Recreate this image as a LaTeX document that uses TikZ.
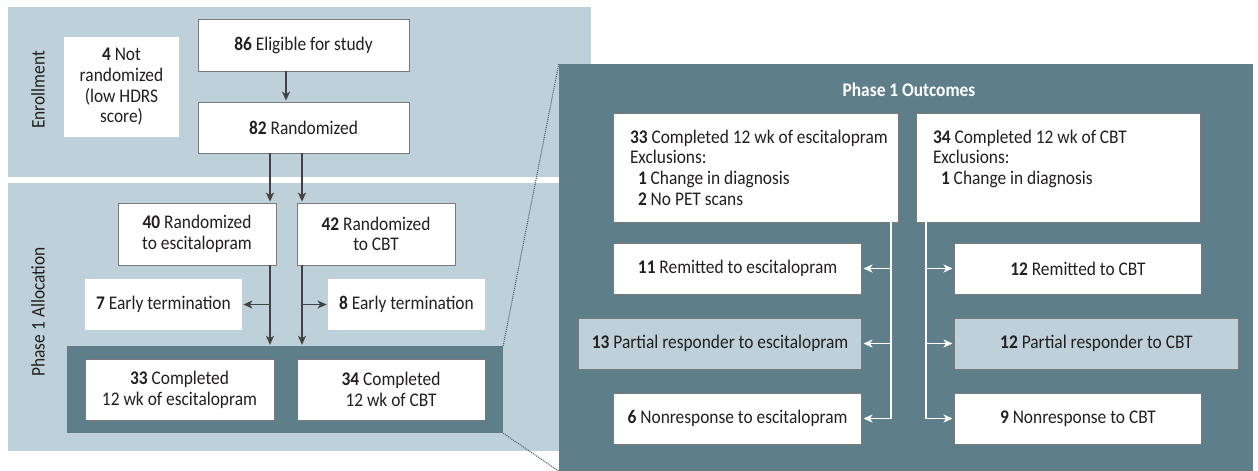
\documentclass[tikz,border=0pt]{standalone}
\usepackage{fontspec}
\setmainfont{Carlito}[FakeStretch=0.9]
\usetikzlibrary{arrows.meta,positioning}
\definecolor{bandlight}{HTML}{BED0D9}
\definecolor{banddark}{HTML}{5E7F8A}
\definecolor{boxline}{HTML}{7A7A7A}
\definecolor{inkgray}{HTML}{231F20}
\tikzset{
  box/.style={draw=boxline,fill=white,line width=0.8pt,minimum height=51pt,inner sep=0pt,align=center,text=inkgray},
  plainbox/.style={box,draw=none},
  outbox/.style={box,minimum width=248pt},
  infobox/.style={box,minimum width=285pt,minimum height=109pt,text width=251pt,align=flush left},
  darkband/.style={fill=banddark,inner sep=0pt},
  sidelabel/.style={rotate=90,text=inkgray},
  arrowline/.style={draw=inkgray!85,line width=1.5pt,shorten >=1pt},
  whiteline/.style={draw=white,line width=1.4pt,shorten >=1.5pt},
  zoomline/.style={draw=banddark!80!black,line width=1.1pt,dash pattern=on 1pt off 1pt}
}
\begin{document}
\begin{tikzpicture}[x=1pt,y=-1pt,on grid,node distance=80pt,
    font=\fontsize{19.3}{20.7}\selectfont,>={Stealth[length=9pt,width=8pt,inset=2.5pt]}]
    \useasboundingbox (0,0) rectangle (1258,471);

    % background bands
    \fill[bandlight] (8,7) rectangle (591,177);
    \fill[bandlight] (8,183) rectangle (575,451);
    \node[sidelabel] (enrlabel) at (38,90) {Enrollment};
    \node[sidelabel] (alloclabel) at (38,312) {Phase 1 Allocation};

    % enrollment
    \node[box,minimum width=211pt,minimum height=52pt] (elig) at (303.5,45) {\textbf{86} Eligible for study};
    \node[box,minimum width=211pt] (rand) [below=82.5pt of elig] {\textbf{82} Randomized};
    \node[plainbox,minimum width=115pt,minimum height=100pt] (notrand) at (121.5,87) {\textbf{4} Not\\randomized\\(low HDRS\\score)};

    % allocation
    \node[box,minimum width=158pt,minimum height=62pt] (r40) at (197,234) {\textbf{40} Randomized\\to escitalopram};
    \node[box,minimum width=158pt,minimum height=62pt] (r42) [right=179pt of r40] {\textbf{42} Randomized\\to CBT};
    \node[plainbox,minimum width=157pt] (early7) at (163.5,304.5) {\textbf{7} Early termination};
    \node[plainbox,minimum width=157pt] (early8) [right=243pt of early7] {\textbf{8} Early termination};
    \node[darkband,minimum width=436pt,minimum height=87pt] (doneband) at (285,389.5) {};
    \node[box,minimum width=189pt,minimum height=61pt] (c33) at (179.5,389.5) {\textbf{33} Completed\\12 wk of escitalopram};
    \node[box,minimum width=188pt,minimum height=61pt] (c34) [right=211.5pt of c33] {\textbf{34} Completed\\12 wk of CBT};

    \coordinate (stemM) at (286,0);
    \coordinate (stemL) at (270,0);
    \coordinate (stemR) at (302,0);
    \draw[arrowline,->] (elig.south -| stemM) -- (rand.north -| stemM);
    \draw[arrowline,->] (rand.south -| stemL) -- (r40.north -| stemL);
    \draw[arrowline,->] (rand.south -| stemR) -- (r42.north -| stemR);
    \draw[arrowline,->] (r40.south -| stemL) -- (doneband.north -| stemL);
    \draw[arrowline,->] (r42.south -| stemR) -- (doneband.north -| stemR);
    \draw[arrowline,->] (early7.east -| stemL) -- (early7.east);
    \draw[arrowline,->] (early8.west -| stemR) -- (early8.west);

    % outcomes
    \node[darkband,minimum width=694pt,minimum height=407pt] (outpanel) at (906,267.5) {};
    \draw[zoomline] (doneband.north east) -- (outpanel.north west);
    \draw[zoomline] (doneband.south east) -- (outpanel.south west);
    \node[text=white] (outtitle) at (909,90) {\textbf{Phase 1 Outcomes}};

    \node[infobox] (o33) at (755.5,167.5) {\mbox{\textbf{33} Completed 12 wk of escitalopram}\\Exclusions:\\\hspace*{8pt}\textbf{1} Change in diagnosis\\\hspace*{8pt}\textbf{2} No PET scans};
    \node[infobox,minimum width=284pt,text width=250pt] (o34) at (1058,167.5) {\textbf{34} Completed 12 wk of CBT\\Exclusions:\\\hspace*{8pt}\textbf{1} Change in diagnosis\\\mbox{}};

    \node[outbox,anchor=east] (rem11) at (862,268.5) {\textbf{11} Remitted to escitalopram};
    \node[outbox,anchor=east,fill=bandlight,minimum width=283pt] (part13) at (862,343.5) {\textbf{13} Partial responder to escitalopram};
    \node[outbox,anchor=east] (non6) at (862,418.5) {\textbf{6} Nonresponse to escitalopram};
    \node[outbox,anchor=west,minimum width=247pt] (rem12) at (954,268.5) {\textbf{12} Remitted to CBT};
    \node[outbox,anchor=west,fill=bandlight,minimum width=284pt] (part12) at (954,343.5) {\textbf{12} Partial responder to CBT};
    \node[outbox,anchor=west,minimum width=247pt] (non9) at (954,418.5) {\textbf{9} Nonresponse to CBT};

    \coordinate (trunkL) at (891,0);
    \coordinate (trunkR) at (926,0);
    \draw[whiteline,->] (o33.south -| trunkL) |- (non6.east);
    \draw[whiteline,->] (trunkL |- rem11.east) -- (rem11.east);
    \draw[whiteline,->] (trunkL |- part13.east) -- (part13.east);
    \draw[whiteline,->] (o34.south -| trunkR) |- (non9.west);
    \draw[whiteline,->] (trunkR |- rem12.west) -- (rem12.west);
    \draw[whiteline,->] (trunkR |- part12.west) -- (part12.west);

\end{tikzpicture}
\end{document}
